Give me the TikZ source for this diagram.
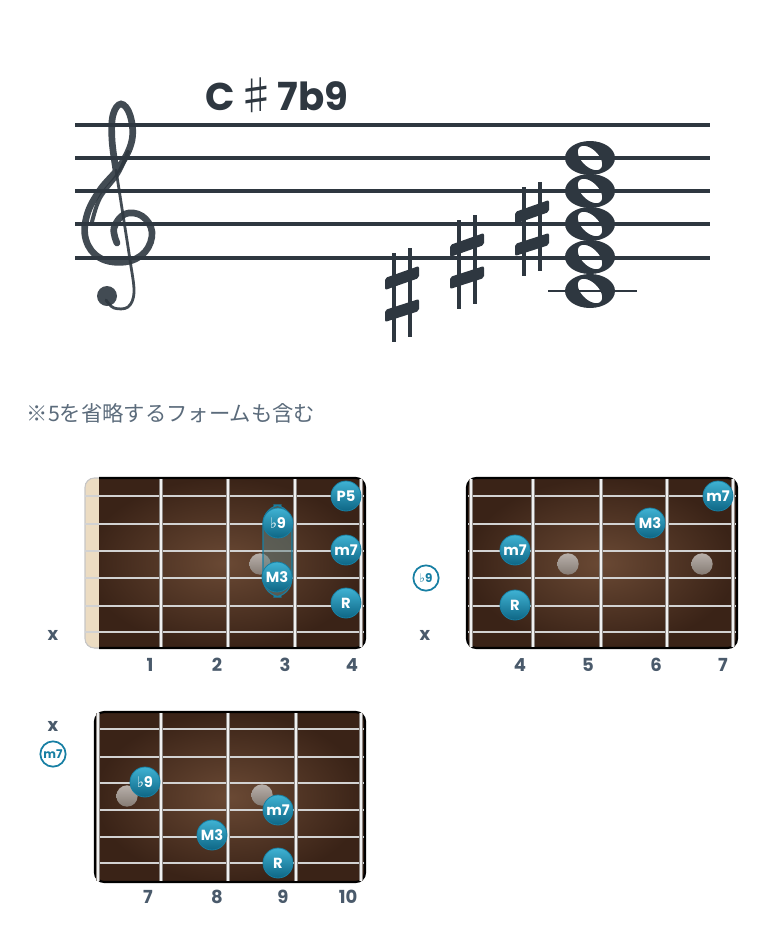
\documentclass[tikz,border=0pt]{standalone}
\usepackage{fontspec}
\newfontfamily\popfont{Poppins}
\newfontfamily\symfont{DejaVu Sans}
\newfontfamily\jpfont{Noto Sans CJK JP}
\usetikzlibrary{positioning}

\definecolor{ink}{HTML}{2E3740}
\definecolor{slate}{HTML}{4A5A6B}
\definecolor{jptext}{HTML}{5B6B7B}
\definecolor{tealhi}{HTML}{3FB2D3}
\definecolor{tealdk}{HTML}{0E6685}
\definecolor{tealed}{HTML}{177FA3}
\definecolor{boardin}{HTML}{6A4934}
\definecolor{boardout}{HTML}{3A2317}
\definecolor{nut}{HTML}{ECDCC2}
\definecolor{wire}{HTML}{F0F0F0}
\definecolor{wiredk}{HTML}{8A8480}
\definecolor{strg}{HTML}{D2D2D2}
\definecolor{inlayhi}{HTML}{B8B0AA}
\definecolor{inlaydk}{HTML}{857B74}

\newcommand\flt{{\symfont\mdseries ♭}}

\begin{document}
\begin{tikzpicture}[x=0.75pt, y=-0.75pt,
    staffline/.style={draw=ink, line width=2.3pt},
    fretwire/.style={draw=wiredk, double=wire, double distance=1.5pt, line width=0.45pt},
    thinstr/.style={draw=strg, line width=1.1pt},
    thickstr/.style={draw=strg, line width=2pt},
    tone/.style={circle, minimum size=22.5pt, inner sep=0pt, top color=tealhi, bottom color=tealdk,
      draw=tealed, line width=0.6pt, text=white, font=\popfont\bfseries\fontsize{11}{11}\selectfont},
    inlay/.style={circle, minimum size=16pt, inner sep=0pt, top color=inlayhi, bottom color=inlaydk},
    fretnum/.style={text=slate, font=\popfont\bfseries\fontsize{13.5}{13.5}\selectfont},
    openmark/.style={circle, draw=tealed, line width=1.3pt, minimum size=19pt, inner sep=0pt,
      text=tealed, font=\popfont\bfseries\fontsize{9}{9}\selectfont},
  ]
\useasboundingbox (0,0) rectangle (780,946);

% Chord name
\node[anchor=west, text=ink, font=\popfont\bfseries\fontsize{29}{29}\selectfont] (title) at (201,95)
  {C\hspace{1pt}{\jpfont\mdseries\fontsize{30}{30}\selectfont ♯}\hspace{1pt}7b9};

% Staff
\foreach \y in {125,158,191,224,258} {
  \draw[staffline] (75,\y) -- (710,\y);
}

% Treble clef
\draw[ink, opacity=0.9, line width=5pt, line cap=round] plot[smooth, tension=0.65] coordinates {
  (117,243) (114,228) (125,214) (142,216) (152,232) (145,252) (125,262) (100,258) (86,240)
  (87,215) (100,190) (120,166) (132,140) (130,115) (121,104) (113,115) (112,140) (116,170)};
\draw[ink, opacity=0.9, line width=3pt, line cap=round] plot[smooth, tension=0.6] coordinates {
  (92,222) (100,198) (118,174) (128,152)};
\draw[ink, opacity=0.9, line width=2.1pt, line cap=round] plot[smooth, tension=0.6] coordinates {
  (116,170) (123,215) (130,260) (134,292) (128,307) (114,308) (106,300)};
\fill[ink, opacity=0.9] (107,296) circle (10);

% Sharps
\foreach \sx/\sy in {402/294, 467/261, 532/228} {
  \begin{scope}[shift={(\sx,\sy)}]
    \draw[ink, line width=3.2pt] (-8,-41) -- (-8,48);
    \draw[ink, line width=3.2pt] (8,-46) -- (8,43);
    \fill[ink, rounded corners=1.5pt] (-17,-16) -- (17,-28) -- (17,-16) -- (-17,-4) -- cycle;
    \fill[ink, rounded corners=1.5pt] (-17,16) -- (17,5) -- (17,17) -- (-17,28) -- cycle;
  \end{scope}
}

% Whole notes
\draw[ink, line width=2pt] (548,291) -- (637,291);
\foreach \y in {158,191,224,257,291} {
  \fill[ink, even odd rule] (590,\y) circle[x radius=25, y radius=17]
    plot[domain=0:360, samples=48] ({590+15*cos(\x)*0.707-8.5*sin(\x)*0.707}, {\y+15*cos(\x)*0.707+8.5*sin(\x)*0.707}) -- cycle;
}

% Note
\node[anchor=west, text=jptext, font=\jpfont\fontsize{16}{16}\selectfont] (memo) at (22,413)
  {※5を省略するフォームも含む};

% Chart 1 (frets 1-4)
\begin{scope}
  \clip[rounded corners=7pt] (85,478) rectangle (365,648);
  \shade[inner color=boardin, outer color=boardout] (85,478) rectangle (365,648);
  \fill[nut] (85,478) rectangle (99,648);
\end{scope}
\draw[gray!45, line width=0.8pt, rounded corners=7pt] (99,478) -- (85,478) -- (85,648) -- (99,648);
\draw[black, line width=1.6pt, rounded corners=7pt] (99,478) -- (365,478) -- (365,648) -- (99,648);
\foreach \y in {496,524,551,578} \draw[thinstr] (85,\y) -- (364,\y);
\foreach \y in {606,632} \draw[thickstr] (85,\y) -- (364,\y);
\foreach \x in {161,228,295,361} \draw[fretwire] (\x,479) -- (\x,647);
\node[inlay] (a-in) at (260,564) {};
\fill[gray!75!teal, opacity=0.5, rounded corners=14pt] (263,505) rectangle (292,597);
\draw[tealed, line width=0.8pt, rounded corners=14pt] (263,505) rectangle (292,597);
\node[tone] (a-p5) at (346,496) {P5};
\node[tone] (a-b9) at (278,523) {\flt9};
\node[tone] (a-m7) at (346,550) {m7};
\node[tone] (a-m3) at (277,577) {M3};
\node[tone] (a-r)  at (346,603) {R};
\node[fretnum] (a-x) at (53,635) {x};
\foreach \x/\n in {150/1, 217/2, 285/3, 352/4} \node[fretnum] (a-f\n) at (\x,665) {\n};

% Chart 2 (frets 4-7)
\begin{scope}
  \clip[rounded corners=7pt] (467,478) rectangle (737,648);
  \shade[inner color=boardin, outer color=boardout] (467,478) rectangle (737,648);
\end{scope}
\draw[black, line width=1.6pt, rounded corners=7pt] (467,478) rectangle (737,648);
\foreach \y in {496,524,551,578} \draw[thinstr] (468,\y) -- (736,\y);
\foreach \y in {606,632} \draw[thickstr] (468,\y) -- (736,\y);
\foreach \x in {471,533,601,667,733} \draw[fretwire] (\x,479) -- (\x,647);
\node[inlay] (b-in1) at (568,564) {};
\node[inlay] (b-in2) at (702,564) {};
\node[tone] (b-m7a) at (718,496) {m7};
\node[tone] (b-m3)  at (650,523) {M3};
\node[tone] (b-m7b) at (515,550) {m7};
\node[tone] (b-r)   at (515,605) {R};
\node[openmark] (b-open) at (426,578) {\flt9};
\node[fretnum] (b-x) at (425,635) {x};
\foreach \x/\n in {520/4, 588/5, 656/6, 723/7} \node[fretnum] (b-f\n) at (\x,665) {\n};

% Chart 3 (frets 7-10)
\begin{scope}
  \clip[rounded corners=7pt] (95,712) rectangle (365,882);
  \shade[inner color=boardin, outer color=boardout] (95,712) rectangle (365,882);
\end{scope}
\draw[black, line width=1.6pt, rounded corners=7pt] (95,712) rectangle (365,882);
\foreach \y in {729,757,783,810} \draw[thinstr] (96,\y) -- (364,\y);
\foreach \y in {837,863} \draw[thickstr] (96,\y) -- (364,\y);
\foreach \x in {98,161,228,296,361} \draw[fretwire] (\x,713) -- (\x,881);
\node[inlay] (c-in1) at (127,796) {};
\node[inlay] (c-in2) at (262,795) {};
\node[tone] (c-b9) at (145,782) {\flt9};
\node[tone] (c-m7) at (278,810) {m7};
\node[tone] (c-m3) at (212,835) {M3};
\node[tone] (c-r)  at (278,863) {R};
\node[fretnum] (c-x) at (53,726) {x};
\node[openmark] (c-open) at (53,754) {m7};
\foreach \x/\n in {148/7, 217/8, 283/9, 348/10} \node[fretnum] (c-f\n) at (\x,897) {\n};

\end{tikzpicture}
\end{document}
